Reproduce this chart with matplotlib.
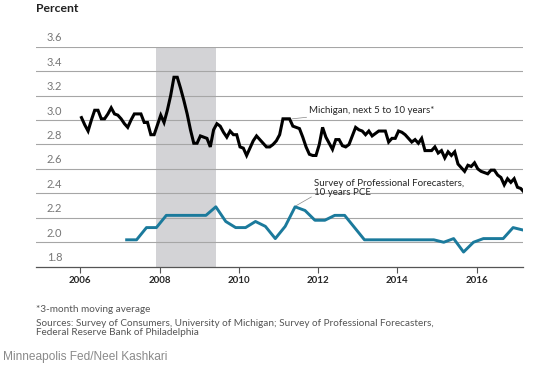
import numpy as np
import matplotlib
matplotlib.use("Agg")
import matplotlib.pyplot as plt
import matplotlib.transforms as mtransforms

# Michigan survey, next 5-10 yrs, 3-month moving avg, monthly Jan 2006 - Mar 2017
michigan = [
    3.02, 2.96, 2.91, 3.00, 3.08, 3.08, 3.01, 3.01, 3.05, 3.10, 3.05, 3.04,  # 2006
    3.01, 2.97, 2.94, 3.00, 3.05, 3.05, 3.05, 2.98, 2.98, 2.88, 2.88, 2.96,  # 2007
    3.04, 2.98, 3.08, 3.20, 3.35, 3.35, 3.26, 3.16, 3.05, 2.92, 2.81, 2.81,  # 2008
    2.87, 2.86, 2.85, 2.78, 2.92, 2.97, 2.95, 2.90, 2.86, 2.91, 2.88, 2.88,  # 2009
    2.78, 2.77, 2.71, 2.77, 2.83, 2.87, 2.84, 2.81, 2.78, 2.78, 2.80, 2.83,  # 2010
    2.88, 3.01, 3.01, 3.01, 2.95, 2.94, 2.93, 2.86, 2.78, 2.72, 2.71, 2.71,  # 2011
    2.80, 2.94, 2.86, 2.81, 2.76, 2.84, 2.84, 2.79, 2.78, 2.80, 2.87, 2.94,  # 2012
    2.92, 2.91, 2.88, 2.91, 2.87, 2.89, 2.91, 2.91, 2.91, 2.82, 2.85, 2.85,  # 2013
    2.91, 2.90, 2.88, 2.85, 2.82, 2.84, 2.81, 2.85, 2.75, 2.75, 2.75, 2.78,  # 2014
    2.73, 2.75, 2.69, 2.74, 2.71, 2.74, 2.64, 2.61, 2.58, 2.63, 2.62, 2.65,  # 2015
    2.60, 2.58, 2.57, 2.56, 2.59, 2.59, 2.55, 2.53, 2.47, 2.52, 2.49, 2.52,  # 2016
    2.45, 2.44, 2.41,                                                        # 2017
]

# SPF 10-year PCE, quarterly 2007Q1 - 2017Q1
spf = [
    2.02, 2.02, 2.12, 2.12,  # 2007
    2.22, 2.22, 2.22, 2.22,  # 2008
    2.22, 2.29, 2.17, 2.12,  # 2009
    2.12, 2.17, 2.13, 2.03,  # 2010
    2.13, 2.29, 2.26, 2.18,  # 2011
    2.18, 2.22, 2.22, 2.12,  # 2012
    2.02, 2.02, 2.02, 2.02,  # 2013
    2.02, 2.02, 2.02, 2.02,  # 2014
    2.00, 2.03, 1.92, 2.00,  # 2015
    2.03, 2.03, 2.03, 2.12,  # 2016
    2.10,                    # 2017
]

recession = (2007.92, 2009.42)
yticks = [1.8, 2.0, 2.2, 2.4, 2.6, 2.8, 3.0, 3.2, 3.4, 3.6]
xticks = [2006, 2008, 2010, 2012, 2014, 2016]

# decimal-year positions
mich_x = 2006.03 + np.arange(len(michigan)) / 12
spf_x = 2007.17 + np.arange(len(spf)) * 0.25

W, H = 538, 376
fig = plt.figure(figsize=(W / 100, H / 100), dpi=100)
ax = fig.add_axes([35.7 / W, 1 - 266.7 / H, (523 - 35.7) / W, 220 / H])

font = "Lato"
txt_col = "#262626"

ax.axvspan(recession[0], recession[1], color="#d3d3d6", lw=0, zorder=0)
for y in yticks[1:]:
    ax.axhline(y, color="#a6a6a6", lw=0.8, zorder=1)

ax.plot(mich_x, michigan, color="black", lw=2.2, solid_joinstyle="miter", zorder=3)
ax.plot(spf_x, spf, color="#1b7a9c", lw=2.1, zorder=3)

ax.set_xlim(2004.875, 2017.17)
ax.set_ylim(1.8, 3.6)
for s in ["top", "right", "left"]:
    ax.spines[s].set_visible(False)
ax.spines["bottom"].set_color("#555555")
ax.spines["bottom"].set_linewidth(0.9)
ax.set_yticks([])
ax.set_xticks(xticks)
ax.set_xticklabels([str(t) for t in xticks], fontfamily=font, fontsize=7,
                   fontweight="bold", color=txt_col)
ax.tick_params(axis="x", length=4, width=0.8, color="#555555", pad=3)

# y labels sit above the gridlines, inside the plot
trans = mtransforms.blended_transform_factory(ax.transAxes, ax.transData)
for y in yticks:
    ax.annotate(f"{y:.1f}", xy=(0.023, y), xycoords=trans, xytext=(0, 2.5),
                textcoords="offset points", ha="left", va="bottom",
                fontfamily=font, fontsize=8, color="#777777")

# series labels with leader lines
ax.annotate("Michigan, next 5 to 10 years*", xy=(2011.35, 3.01), xytext=(2011.78, 3.08),
            fontfamily=font, fontsize=7, color=txt_col, va="center", ha="left",
            arrowprops=dict(arrowstyle="-", color="#888888", lw=0.5,
                            shrinkA=0, shrinkB=0))
ax.annotate("Survey of Professional Forecasters,\n10 years PCE",
            xy=(2011.45, 2.30), xytext=(2011.9, 2.445),
            fontfamily=font, fontsize=7, color=txt_col, va="center", ha="left",
            linespacing=1.1,
            arrowprops=dict(arrowstyle="-", color="#888888", lw=0.5,
                            shrinkA=0, shrinkB=0, relpos=(0, 0.1)))

fig.text(35.7 / W, 1 - 8 / H, "Percent", fontfamily=font, fontsize=8.8,
         fontweight="bold", color="#222222", va="center", ha="left")

fig.text(35.7 / W, 1 - 309 / H, "*3-month moving average", fontfamily=font,
         fontsize=7.2, color="#555555", va="center", ha="left")
fig.text(35.7 / W, 1 - 328 / H,
         "Sources: Survey of Consumers, University of Michigan; Survey of Professional Forecasters,\n"
         "Federal Reserve Bank of Philadelphia",
         fontfamily=font, fontsize=7.2, color="#555555", va="center", ha="left",
         linespacing=1.05)
fig.text(3 / W, 1 - 356.7 / H, "Minneapolis Fed/Neel Kashkari",
         fontfamily="Liberation Sans", fontsize=8.6, color="#8a8a8a",
         va="center", ha="left")

fig.savefig("out.png", dpi=100)
